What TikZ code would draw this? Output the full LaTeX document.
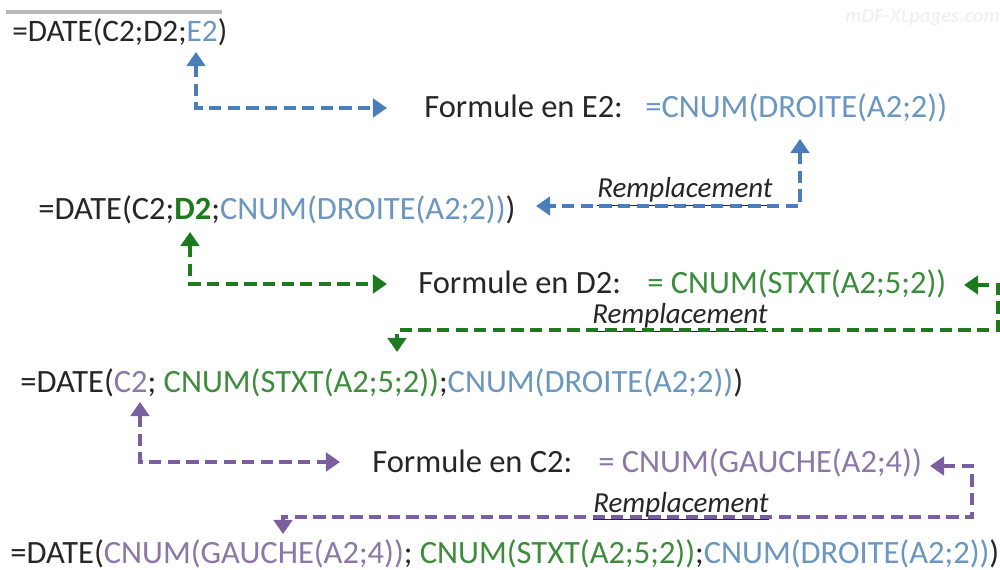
\documentclass[tikz,border=0pt]{standalone}
\usepackage{fontspec}
\setmainfont{Carlito}
\usetikzlibrary{arrows.meta}
\definecolor{txt}{HTML}{262626}
\definecolor{cblue}{HTML}{6A96C0}
\definecolor{ablue}{HTML}{4A7EBB}
\definecolor{cgreen}{HTML}{3C8C3C}
\definecolor{agreen}{HTML}{1E7A1E}
\definecolor{cpurple}{HTML}{8C78A8}
\definecolor{apurple}{HTML}{7A5EA0}
\tikzset{
  formula/.style={anchor=base west, inner sep=0pt, font=\fontsize{18.5}{20}\selectfont, text=txt},
  repl/.style={anchor=base west, inner sep=0pt, font=\fontsize{16.5}{18}\selectfont\itshape, text=txt},
  dashlink/.style={line width=2.3pt, dash pattern=on 7pt off 3.6pt,
     {Triangle[width=10.5pt,length=8pt]}-{Triangle[width=10.5pt,length=8pt]}},
}
\begin{document}
\begin{tikzpicture}[x=0.02cm,y=-0.02cm]
\useasboundingbox[fill=white] (0,0) rectangle (1000,570);
% top gray rule and watermark
\draw[gray!55, line width=2.4pt] (6,12) -- (222,12);
\node[anchor=base west, inner sep=0pt, text=gray!10, font=\fontsize{11.5}{13}\selectfont\itshape\bfseries] (wm) at (845,23) {mDF-XLpages.com};
% line 0
\node[formula, font=\fontsize{17.8}{20}\selectfont] (l0) at (12,42) {=DATE(C2;D2;{\color{cblue}E2})};
% E2 step
\node[formula] (fe) at (424,118) {Formule en E2:};
\node[formula] (fe2) at (645,118) {{\color{cblue}=CNUM(DROITE(A2;2))}};
\node[repl] (r1) at (597,198) {\underline{Remplacement}};
% line 1
\node[formula] (l1) at (38,220) {=DATE(C2;{\color{agreen}\bfseries D2};{\color{cblue}CNUM(DROITE(A2;2))})};
% D2 step
\node[formula] (fd) at (418,294) {Formule en D2:};
\node[formula] (fd2) at (647,294) {{\color{cgreen}= CNUM(STXT(A2;5;2))}};
\node[repl] (r2) at (592,324) {\underline{Remplacement}};
% line 2
\node[formula] (l2) at (20,393) {=DATE({\color{cpurple}C2}; {\color{cgreen}CNUM(STXT(A2;5;2))};{\color{cblue}CNUM(DROITE(A2;2))})};
% C2 step
\node[formula] (fc) at (372,472) {Formule en C2:};
\node[formula] (fc2) at (598,472) {{\color{cpurple}= CNUM(GAUCHE(A2;4))}};
\node[repl] (r3) at (593,512) {\underline{Remplacement}};
% line 3
\node[formula] (l3) at (10,563) {=DATE({\color{cpurple}CNUM(GAUCHE(A2;4))}; {\color{cgreen}CNUM(STXT(A2;5;2))};{\color{cblue}CNUM(DROITE(A2;2))})};

% blue connectors
\coordinate (e2up) at (196,52);
\coordinate (e2r) at (387,108);
\draw[ablue, dashlink] (e2up) |- (e2r);
\coordinate (b2up) at (800,139);
\coordinate (b2l) at (536,206);
\draw[ablue, dashlink] (b2up) |- (b2l);

% green connectors
\coordinate (d2up) at (190,232);
\coordinate (d2r) at (387,284);
\draw[agreen, dashlink] (d2up) |- (d2r);
\coordinate (g2l) at (964,285);
\coordinate (g2c) at (998,330);
\coordinate (g2d) at (397,352);
\draw[agreen, dashlink] (g2l) -| (g2c) -| (g2d);

% purple connectors
\coordinate (c2up) at (140,402);
\coordinate (c2r) at (340,462);
\draw[apurple, dashlink] (c2up) |- (c2r);
\coordinate (p2l) at (930,466);
\coordinate (p2c) at (972,517);
\coordinate (p2d) at (283,534);
\draw[apurple, dashlink] (p2l) -| (p2c) -| (p2d);
\end{tikzpicture}
\end{document}
